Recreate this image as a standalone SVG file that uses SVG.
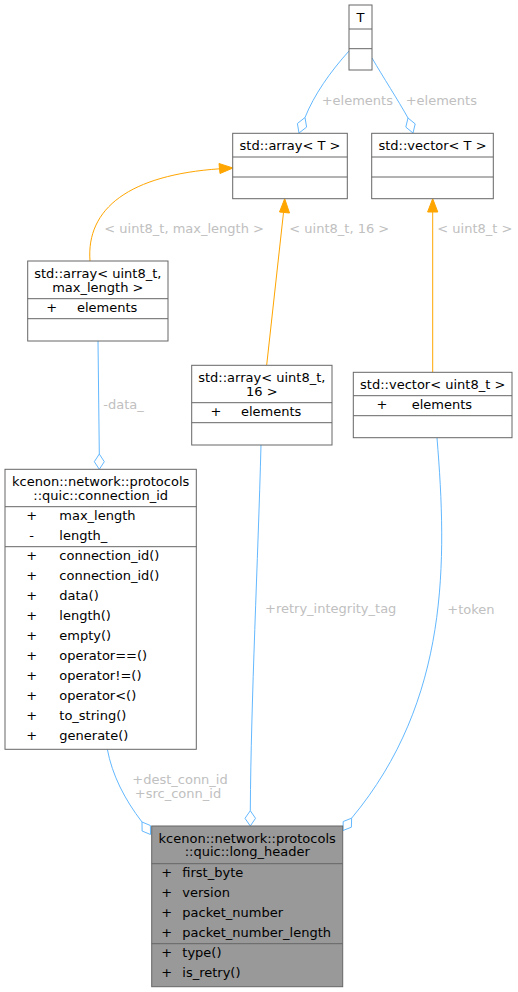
<svg xmlns="http://www.w3.org/2000/svg" width="518" height="992" viewBox="0 0 518 992">
<style>
  text { font-family: "DejaVu Sans", "Liberation Sans", sans-serif; font-size: 13px; fill: #000; }
  .box { fill: #ffffff; stroke: #666666; stroke-width: 1; }
  .hl { fill: #999999; stroke: #666666; stroke-width: 1; }
  .sep { stroke: #666666; stroke-width: 1; }
  .mid { text-anchor: middle; }
  .lbl { fill: #c0c0c0; }
  .blue { fill: none; stroke: #63b8ff; stroke-width: 1; }
  .dia { fill: #ffffff; stroke: #63b8ff; stroke-width: 1; }
  .orange { fill: none; stroke: #ffa500; stroke-width: 1; }
  .arr { fill: #ffa500; stroke: #ffa500; stroke-width: 1; }
</style>
<rect width="518" height="992" fill="#ffffff"/>
<g id="edges">
  <path class="blue" d="M349,51 C330,72 314,95 305,117.5"/>
  <polygon class="dia" points="305,117.5 306.6,127.1 299,133 297.4,123.5"/>
  <text class="lbl" x="321.7" y="105">+elements</text>

  <path class="blue" d="M372,58 C383,77 398,100 408,118"/>
  <polygon class="dia" points="408,118 415.2,123.9 413,133 405.8,127.1"/>
  <text class="lbl" x="405.7" y="105">+elements</text>

  <path class="orange" d="M90,261 C86,208 130,175 219.5,168.8"/>
  <polygon class="arr" points="233,168 220,173.5 219,163.5"/>
  <text class="lbl" x="104.3" y="233.2">&lt; uint8_t, max_length &gt;</text>

  <path class="orange" d="M266.7,365 L283.5,212.5"/>
  <polygon class="arr" points="284.7,198.7 289.5,213 279.5,212"/>
  <text class="lbl" x="289.3" y="233.2">&lt; uint8_t, 16 &gt;</text>

  <path class="orange" d="M432.7,372.3 L432.7,212"/>
  <polygon class="arr" points="432.7,198.7 437.8,212 427.6,212"/>
  <text class="lbl" x="437.3" y="233.2">&lt; uint8_t &gt;</text>

  <path class="blue" d="M98,341 L99.3,454"/>
  <polygon class="dia" points="99.3,454 104.3,461.7 99.3,469.3 94.3,461.7"/>
  <text class="lbl" x="103.3" y="408.8">-data_</text>

  <path class="blue" d="M261,445 C258,560 251,700 250.3,810.7"/>
  <polygon class="dia" points="250.3,810.7 255.5,818.3 250.3,826 245,818.3"/>
  <text class="lbl" x="265" y="612.5">+retry_integrity_tag</text>

  <path class="blue" d="M437,438 C447,560 450,700 351.6,818.2"/>
  <polygon class="dia" points="351.6,818.2 351.4,827.2 343,830.5 343.2,821.5"/>
  <text class="lbl" x="447.3" y="613.5">+token</text>

  <path class="blue" d="M107.3,749 C112,775 125,800 142,822"/>
  <polygon class="dia" points="142,822 150.4,825.5 150.5,834.5 142.1,831"/>
  <text class="lbl mid" x="180" y="783.8">+dest_conn_id</text>
  <text class="lbl mid" x="178" y="797.8">+src_conn_id</text>
</g>

<g id="node_T">
  <rect class="box" x="349" y="5" width="23" height="65"/>
  <line class="sep" x1="349" y1="29" x2="372" y2="29"/>
  <line class="sep" x1="349" y1="48.7" x2="372" y2="48.7"/>
  <text class="mid" x="360.5" y="21.5">T</text>
</g>

<g id="node_array_T">
  <rect class="box" x="232.7" y="133.3" width="114.6" height="65.4"/>
  <line class="sep" x1="232.7" y1="157" x2="347.3" y2="157"/>
  <line class="sep" x1="232.7" y1="177" x2="347.3" y2="177"/>
  <text class="mid" x="290" y="149.5">std::array&lt; T &gt;</text>
</g>

<g id="node_vector_T">
  <rect class="box" x="371.7" y="133.3" width="121.6" height="65.4"/>
  <line class="sep" x1="371.7" y1="157" x2="493.3" y2="157"/>
  <line class="sep" x1="371.7" y1="177" x2="493.3" y2="177"/>
  <text class="mid" x="432.5" y="149.5">std::vector&lt; T &gt;</text>
</g>

<g id="node_array_max_length">
  <rect class="box" x="27.7" y="261" width="140.3" height="80"/>
  <line class="sep" x1="27.7" y1="298.7" x2="168" y2="298.7"/>
  <line class="sep" x1="27.7" y1="318.7" x2="168" y2="318.7"/>
  <text class="mid" x="97.8" y="277.8">std::array&lt; uint8_t,</text>
  <text class="mid" x="97.8" y="291.8">max_length &gt;</text>
  <text class="mid" x="51.7" y="311.8">+</text>
  <text x="77" y="311.8">elements</text>
</g>

<g id="node_array_16">
  <rect class="box" x="191.7" y="365.3" width="140.3" height="79.7"/>
  <line class="sep" x1="191.7" y1="402.7" x2="332" y2="402.7"/>
  <line class="sep" x1="191.7" y1="422.7" x2="332" y2="422.7"/>
  <text class="mid" x="261.8" y="381.8">std::array&lt; uint8_t,</text>
  <text class="mid" x="261.8" y="395.8">16 &gt;</text>
  <text class="mid" x="216" y="415.8">+</text>
  <text x="241" y="415.8">elements</text>
</g>

<g id="node_vector_uint8">
  <rect class="box" x="353.3" y="372.3" width="158.7" height="65.4"/>
  <line class="sep" x1="353.3" y1="395.7" x2="512" y2="395.7"/>
  <line class="sep" x1="353.3" y1="415.7" x2="512" y2="415.7"/>
  <text class="mid" x="432.7" y="388.8">std::vector&lt; uint8_t &gt;</text>
  <text class="mid" x="382" y="408.8">+</text>
  <text x="411.7" y="408.8">elements</text>
</g>

<g id="node_connection_id">
  <rect class="box" x="5" y="469.3" width="191.3" height="280"/>
  <line class="sep" x1="5" y1="506.7" x2="196.3" y2="506.7"/>
  <line class="sep" x1="5" y1="546.7" x2="196.3" y2="546.7"/>
  <text class="mid" x="100.7" y="485.5">kcenon::network::protocols</text>
  <text class="mid" x="100.7" y="499.5">::quic::connection_id</text>
  <text class="mid" x="31.7" y="519.5">+</text><text x="59.3" y="519.5">max_length</text>
  <text class="mid" x="31.7" y="539.5">-</text><text x="59.3" y="539.5">length_</text>
  <text class="mid" x="31.7" y="559.5">+</text><text x="59.3" y="559.5">connection_id()</text>
  <text class="mid" x="31.7" y="579.5">+</text><text x="59.3" y="579.5">connection_id()</text>
  <text class="mid" x="31.7" y="599.5">+</text><text x="59.3" y="599.5">data()</text>
  <text class="mid" x="31.7" y="619.5">+</text><text x="59.3" y="619.5">length()</text>
  <text class="mid" x="31.7" y="639.5">+</text><text x="59.3" y="639.5">empty()</text>
  <text class="mid" x="31.7" y="659.5">+</text><text x="59.3" y="659.5">operator==()</text>
  <text class="mid" x="31.7" y="679.5">+</text><text x="59.3" y="679.5">operator!=()</text>
  <text class="mid" x="31.7" y="699.5">+</text><text x="59.3" y="699.5">operator&lt;()</text>
  <text class="mid" x="31.7" y="719.5">+</text><text x="59.3" y="719.5">to_string()</text>
  <text class="mid" x="31.7" y="739.5">+</text><text x="59.3" y="739.5">generate()</text>
</g>

<g id="node_long_header">
  <rect class="hl" x="151.7" y="826" width="191" height="160.7"/>
  <line class="sep" x1="151.7" y1="863.7" x2="342.7" y2="863.7"/>
  <line class="sep" x1="151.7" y1="943.7" x2="342.7" y2="943.7"/>
  <text class="mid" x="247.2" y="842.8">kcenon::network::protocols</text>
  <text class="mid" x="247.2" y="856.2">::quic::long_header</text>
  <text class="mid" x="166.7" y="877.2">+</text><text x="182.3" y="877.2">first_byte</text>
  <text class="mid" x="166.7" y="897.2">+</text><text x="182.3" y="897.2">version</text>
  <text class="mid" x="166.7" y="917.2">+</text><text x="182.3" y="917.2">packet_number</text>
  <text class="mid" x="166.7" y="937.2">+</text><text x="182.3" y="937.2">packet_number_length</text>
  <text class="mid" x="166.7" y="957.2">+</text><text x="182.3" y="957.2">type()</text>
  <text class="mid" x="166.7" y="977.2">+</text><text x="182.3" y="977.2">is_retry()</text>
</g>
</svg>
